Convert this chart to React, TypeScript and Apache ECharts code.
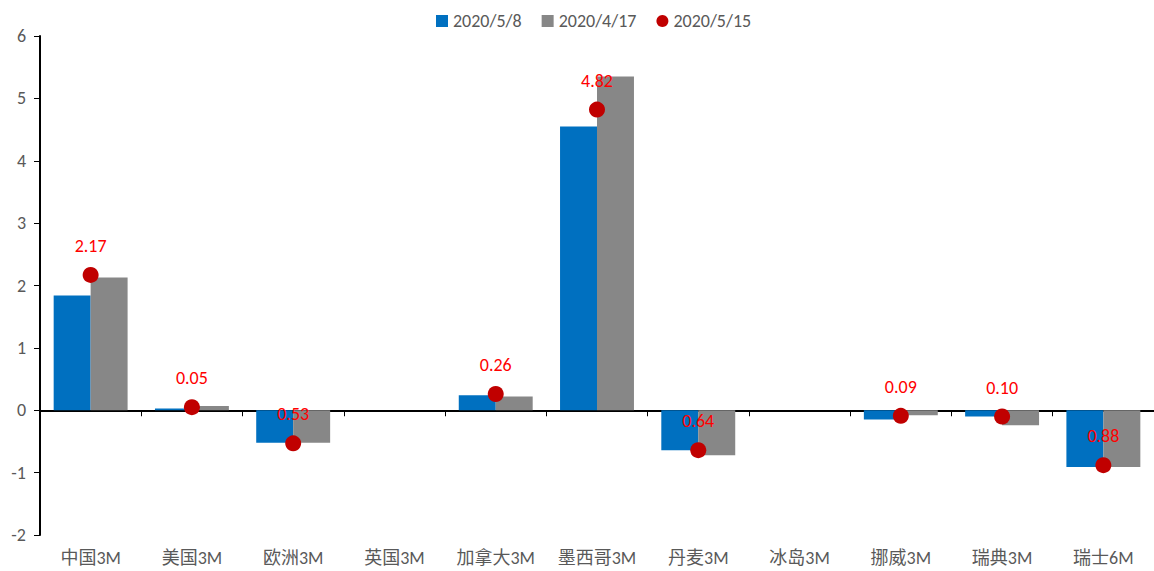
import React, { useEffect, useRef } from "react";
import * as echarts from "echarts";

const categories = ["中国3M", "美国3M", "欧洲3M", "英国3M", "加拿大3M", "墨西哥3M", "丹麦3M", "冰岛3M", "挪威3M", "瑞典3M", "瑞士6M"];
const s0508 = [1.84, 0.03, -0.52, 0, 0.24, 4.55, -0.64, 0, -0.15, -0.1, -0.91];
const s0417 = [2.13, 0.07, -0.52, 0, 0.22, 5.35, -0.72, 0, -0.08, -0.24, -0.91];
const s0515: (number | null)[] = [2.17, 0.05, -0.53, null, 0.26, 4.82, -0.64, null, -0.09, -0.1, -0.88];
const yTicks = [-2, -1, 0, 1, 2, 3, 4, 5, 6];

export default function App() {
  const ref = useRef<HTMLDivElement>(null);
  useEffect(() => {
    document.body.style.margin = "0";
    const chart = echarts.init(ref.current!, null, { renderer: "svg" });
    const font = "Calibri, Carlito, 'Noto Sans CJK SC', sans-serif";
    chart.setOption({
      animation: false,
      textStyle: { fontFamily: font },
      legend: {
        top: 7,
        left: 431,
        itemWidth: 12,
        itemHeight: 12,
        itemGap: 20,
        textStyle: { color: "#595959", fontSize: 18, fontFamily: font },
        data: [
          { name: "2020/5/8", icon: "rect" },
          { name: "2020/4/17", icon: "rect" },
          { name: "2020/5/15", icon: "circle" },
        ],
      },
      grid: { left: 40, top: 36, width: 1116, height: 499 },
      xAxis: [
        {
          type: "category",
          data: categories,
          axisLine: { onZero: true, lineStyle: { color: "#000", width: 2 } },
          axisTick: { show: true, length: 6, lineStyle: { color: "#000" } },
          axisLabel: { show: false },
        },
        {
          type: "category",
          data: categories,
          position: "bottom",
          axisLine: { show: false, onZero: false },
          axisTick: { show: false },
          axisLabel: { color: "#595959", fontSize: 18, margin: 14, interval: 0, fontFamily: font },
        },
      ],
      yAxis: {
        type: "value",
        min: yTicks[0],
        max: yTicks[yTicks.length - 1],
        interval: 1,
        splitLine: { show: false },
        axisLine: { show: true, lineStyle: { color: "#000", width: 2 } },
        axisTick: { show: true, length: 6, lineStyle: { color: "#000" } },
        axisLabel: { color: "#595959", fontSize: 18, margin: 14, fontFamily: font },
      },
      series: [
        {
          name: "2020/5/8",
          type: "bar",
          data: s0508,
          barGap: "0%",
          barCategoryGap: "27%",
          itemStyle: { color: "#0070C0" },
        },
        {
          name: "2020/4/17",
          type: "bar",
          data: s0417,
          itemStyle: { color: "#878787" },
        },
        {
          name: "2020/5/15",
          type: "scatter",
          data: s0515,
          symbol: "circle",
          symbolSize: 16,
          itemStyle: { color: "#C00000", opacity: 1 },
          z: 5,
          label: {
            show: true,
            position: "top",
            distance: 12,
            color: "#FF0000",
            fontSize: 18,
            fontFamily: font,
            formatter: (p: any) => Math.abs(p.value).toFixed(2),
          },
        },
      ],
    });
    return () => chart.dispose();
  }, []);
  return <div ref={ref} style={{ width: 1154, height: 571 }} />;
}
